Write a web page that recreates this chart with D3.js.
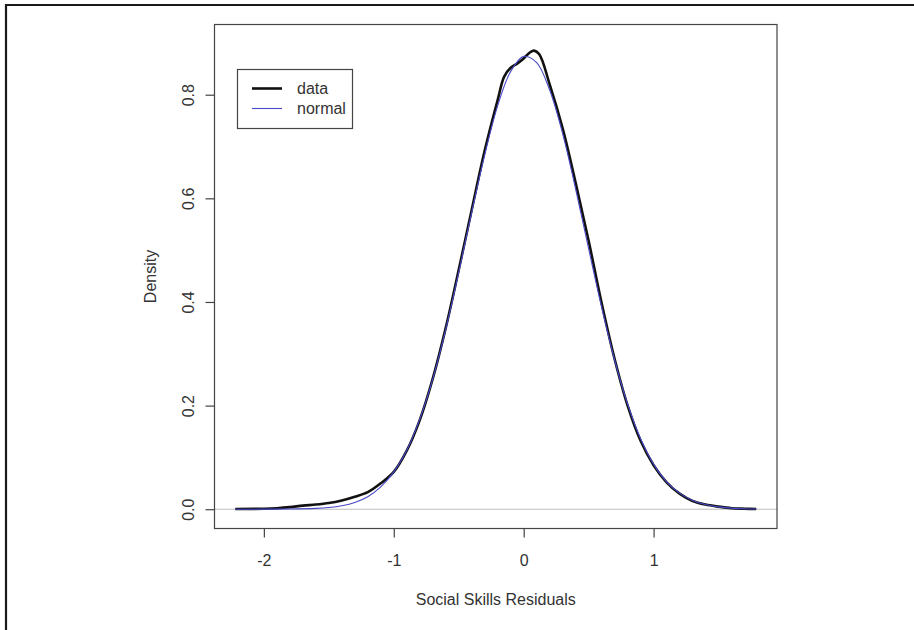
<!DOCTYPE html>
<html>
<head>
<meta charset="utf-8">
<script src="https://cdn.jsdelivr.net/npm/d3@7"></script>
<style>
	body { margin: 0; background: #fff; }
	svg { display: block; font-family: "Liberation Sans", Arial, sans-serif; }
</style>
</head>
<body>
<svg id="chart" width="914" height="630"></svg>
<script>
// density estimates
var dataX = [-2.22, -2.0, -1.9, -1.8, -1.7, -1.6, -1.5, -1.4, -1.3, -1.2, -1.1, -1.0, -0.9, -0.8, -0.7, -0.6, -0.5, -0.4, -0.3, -0.2, -0.15, -0.1, -0.05, 0.0, 0.05, 0.08, 0.12, 0.2, 0.3, 0.4, 0.5, 0.6, 0.7, 0.8, 0.9, 1.0, 1.1, 1.2, 1.3, 1.4, 1.5, 1.6, 1.7, 1.79];
var dataY = [0.0005, 0.001, 0.002, 0.004, 0.007, 0.009, 0.012, 0.017, 0.024, 0.033, 0.050, 0.072, 0.113, 0.172, 0.252, 0.350, 0.462, 0.578, 0.692, 0.790, 0.835, 0.852, 0.860, 0.870, 0.882, 0.885, 0.878, 0.820, 0.735, 0.630, 0.518, 0.398, 0.290, 0.200, 0.132, 0.085, 0.052, 0.030, 0.016, 0.009, 0.005, 0.002, 0.001, 0.0003];

var normX = [-2.22, -2.0, -1.8, -1.6, -1.5, -1.4, -1.3, -1.2, -1.1, -1.0, -0.9, -0.8, -0.7, -0.6, -0.5, -0.4, -0.3, -0.2, -0.1, 0.0, 0.1, 0.2, 0.3, 0.4, 0.5, 0.6, 0.7, 0.8, 0.9, 1.0, 1.1, 1.2, 1.3, 1.4, 1.5, 1.6, 1.7, 1.79];
var normY = [0.0, 0.0001, 0.0003, 0.0016, 0.0034, 0.0068, 0.013, 0.024, 0.043, 0.072, 0.114, 0.174, 0.251, 0.347, 0.457, 0.573, 0.684, 0.779, 0.845, 0.874, 0.862, 0.809, 0.725, 0.618, 0.503, 0.390, 0.288, 0.203, 0.136, 0.087, 0.053, 0.031, 0.017, 0.009, 0.0045, 0.0022, 0.001, 0.0004];

var xTicks = [-2, -1, 0, 1];
var yTicks = [0.0, 0.2, 0.4, 0.6, 0.8];
var legendLabels = ["data", "normal"];

var svg = d3.select("#chart"),
	plotL = 214.5, plotR = 777, plotT = 24.5, plotB = 528.5;

var x = d3.scaleLinear().domain([-2.38, 1.95]).range([plotL, plotR]);
var y = d3.scaleLinear().domain([-0.0372, 0.9355]).range([plotB, plotT]);

// frame of the cropped figure
svg.append("path")
	.attr("d", "M6,630V5H914")
	.attr("fill", "none")
	.attr("stroke", "#1a1a1a")
	.attr("stroke-width", 2.2);

// zero line
svg.append("line")
	.attr("x1", plotL).attr("x2", plotR)
	.attr("y1", y(0)).attr("y2", y(0))
	.attr("stroke", "#bdbdbd").attr("stroke-width", 1);

var line = d3.line()
	.x(function (d) { return x(d[0]); })
	.y(function (d) { return y(d[1]); })
	.curve(d3.curveCatmullRom);

svg.append("path")
	.datum(d3.zip(dataX, dataY))
	.attr("d", line)
	.attr("fill", "none")
	.attr("stroke", "#111")
	.attr("stroke-width", 2.6);

svg.append("path")
	.datum(d3.zip(normX, normY))
	.attr("d", line)
	.attr("fill", "none")
	.attr("stroke", "#4848c8")
	.attr("stroke-width", 1.1);

// box
svg.append("rect")
	.attr("x", plotL).attr("y", plotT)
	.attr("width", plotR - plotL).attr("height", plotB - plotT)
	.attr("fill", "none").attr("stroke", "#444").attr("stroke-width", 1.2);

var xAxis = svg.append("g")
	.attr("transform", "translate(0," + plotB + ")")
	.call(d3.axisBottom(x).tickValues(xTicks).tickSize(9).tickPadding(17)
		.tickFormat(function (d) { return d; }));
xAxis.select(".domain").remove();
xAxis.selectAll("line").attr("stroke", "#444").attr("stroke-width", 1.2);
xAxis.selectAll("text").attr("font-size", 16).attr("fill", "#333")
	.attr("font-family", "Liberation Sans, Arial, sans-serif");

var yAxis = svg.append("g")
	.attr("transform", "translate(" + plotL + ",0)")
	.call(d3.axisLeft(y).tickValues(yTicks).tickSize(9).tickFormat(d3.format(".1f")));
yAxis.select(".domain").remove();
yAxis.selectAll("line").attr("stroke", "#444").attr("stroke-width", 1.2);
yAxis.selectAll("text")
	.attr("font-size", 16).attr("fill", "#333")
	.attr("font-family", "Liberation Sans, Arial, sans-serif")
	.attr("x", null).attr("dy", null)
	.attr("text-anchor", "middle")
	.attr("transform", "translate(-26,0) rotate(-90)")
	.attr("dominant-baseline", "central");

svg.append("text")
	.attr("x", (plotL + plotR) / 2).attr("y", 605)
	.attr("text-anchor", "middle")
	.attr("font-size", 16).attr("fill", "#333")
	.text("Social Skills Residuals");

svg.append("text")
	.attr("transform", "translate(156," + ((plotT + plotB) / 2) + ") rotate(-90)")
	.attr("text-anchor", "middle")
	.attr("font-size", 16).attr("fill", "#333")
	.text("Density");

// legend
var legend = svg.append("g");
legend.append("rect")
	.attr("x", 237.5).attr("y", 69.5).attr("width", 115).attr("height", 59)
	.attr("fill", "#fff").attr("stroke", "#444").attr("stroke-width", 1.2);
var legendStyle = [{ c: "#111", w: 2.6 }, { c: "#4848c8", w: 1.1 }];
legendLabels.forEach(function (t, i) {
	var ly = 88.5 + i * 20;
	legend.append("line")
		.attr("x1", 252).attr("x2", 282).attr("y1", ly).attr("y2", ly)
		.attr("stroke", legendStyle[i].c).attr("stroke-width", legendStyle[i].w);
	legend.append("text")
		.attr("x", 297).attr("y", ly)
		.attr("dominant-baseline", "central")
		.attr("font-size", 16).attr("fill", "#333")
		.text(t);
});
</script>
</body>
</html>
